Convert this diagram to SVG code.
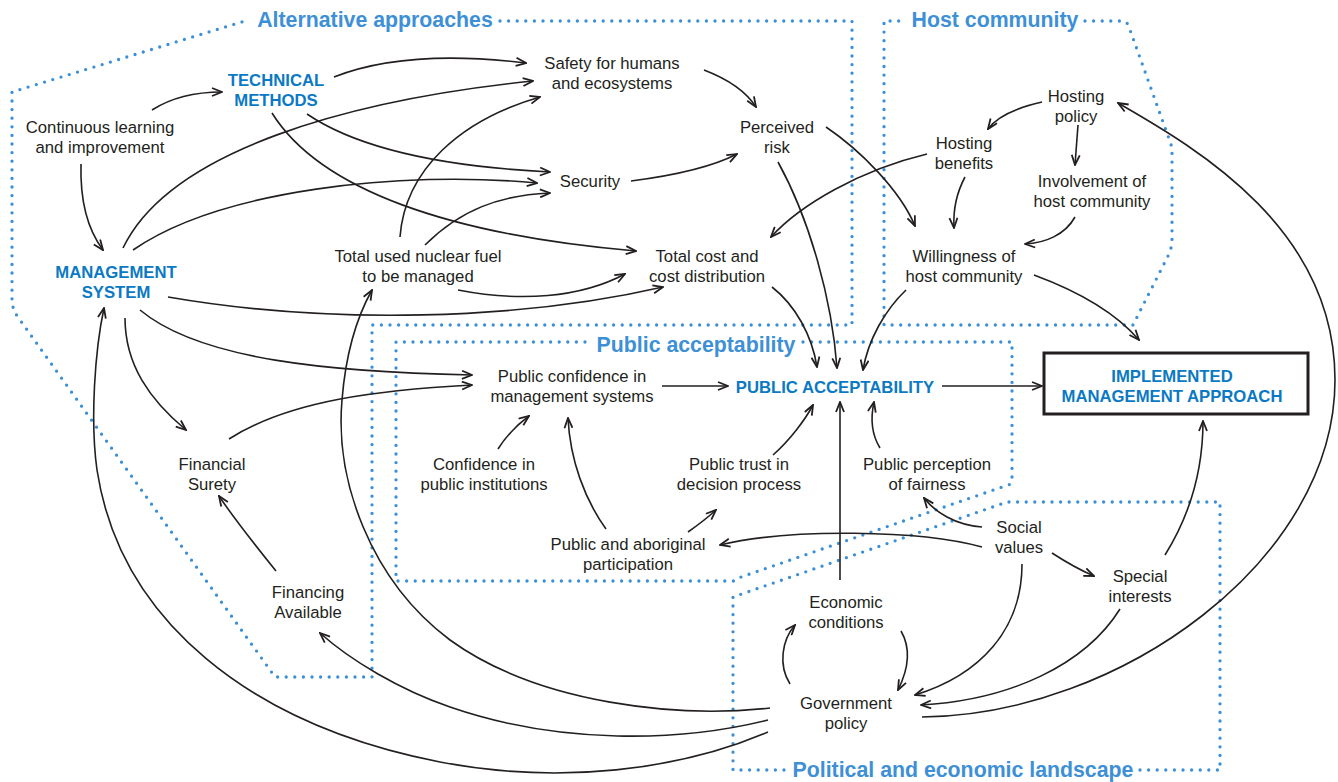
<svg xmlns="http://www.w3.org/2000/svg" width="1338" height="782" viewBox="0 0 1338 782">
<defs>
<marker id="ah" viewBox="0 0 12 10" refX="11" refY="5" markerWidth="12" markerHeight="10" markerUnits="userSpaceOnUse" orient="auto">
<path d="M1,1 L11,5 L1,9" fill="none" stroke="#231f20" stroke-width="1.8" stroke-linejoin="miter"/>
</marker>
<style>
.t{font-family:"Liberation Sans",Arial,sans-serif;font-size:16.7px;fill:#231f20;text-anchor:middle}
.b{font-family:"Liberation Sans",Arial,sans-serif;font-size:16.7px;font-weight:bold;fill:#0b79c3;text-anchor:middle}
.ti{font-family:"Liberation Sans",Arial,sans-serif;font-size:21.3px;font-weight:bold;fill:#3d90d6;text-anchor:middle}
.d{fill:none;stroke:#3b8fd6;stroke-width:3.3;stroke-dasharray:0 8.6;stroke-linecap:round;stroke-linejoin:round}
.c path{fill:none;stroke:#231f20;stroke-width:1.6;marker-end:url(#ah)}
</style>
</defs>
<rect width="1338" height="782" fill="#ffffff"/>

<g id="regions">
<path class="d" d="M500,21 L852,21 L852,325 L372,325 L372,677 L275,677 L20,320 Q12,310 12,300 L12,92 L245,21"/>
<path class="d" d="M1085,21 L1122,21 Q1127,21 1129,27 L1168,136 Q1172,145 1172,152 L1172,240 Q1172,248 1168,256 L1133,325 L884,325 L884,21 L900,21"/>
<path class="d" d="M803,342 L1012,342 L1012,480 Q1012,484 1008,485 L741,577 Q737,581 733,581 L396,581 L396,342 L588,342"/>
<path class="d" d="M1140,770 L1220,770 L1220,502 L1007,502 L733,597 L733,770 L785,770"/>
<text class="ti" x="375" y="27">Alternative approaches</text>
<text class="ti" x="995" y="27">Host community</text>
<text class="ti" x="696" y="352">Public acceptability</text>
<text class="ti" x="963" y="777">Political and economic landscape</text>
</g>

<g id="connectors" class="c">
<path d="M152,110 Q180,92 222,92"/>
<path d="M81,164 C80,200 88,230 103,250"/>
<path d="M334,77 C390,55 460,55 526,63"/>
<path d="M307,114 C360,150 450,167 550,172"/>
<path d="M272,113 C320,190 450,235 636,251"/>
<path d="M123,248 C170,150 350,100 533,81"/>
<path d="M133,250 C220,190 400,170 537,183"/>
<path d="M425,245 C460,210 500,195 550,193"/>
<path d="M400,237 C405,170 460,120 540,97"/>
<path d="M458,290 C520,302 580,298 625,274"/>
<path d="M168,297 C330,325 520,320 663,287"/>
<path d="M704,70 C725,78 745,90 756,107"/>
<path d="M631,181 C670,176 710,168 737,154"/>
<path d="M826,127 C860,150 900,190 915,226"/>
<path d="M778,162 C810,220 832,300 837,368"/>
<path d="M772,287 C795,305 812,335 817,367"/>
<path d="M906,290 C885,310 868,340 863,370"/>
<path d="M927,154 C860,170 800,205 771,237"/>
<path d="M1042,102 C1020,107 998,115 988,129"/>
<path d="M1078,125 L1075,165"/>
<path d="M965,177 C957,192 953,210 954,228"/>
<path d="M1075,217 C1065,235 1045,243 1025,244"/>
<path d="M1034,275 C1080,292 1115,312 1139,340"/>
<path d="M922,717 C1120,715 1335,560 1335,380 C1335,230 1200,150 1118,103"/>
<path d="M662,386 L728,386"/>
<path d="M942,386 L1042,386"/>
<path d="M140,310 C200,360 330,372 472,375"/>
<path d="M229,439 C290,400 380,390 472,385"/>
<path d="M125,318 C125,365 150,400 186,430"/>
<path d="M276,571 C255,545 235,520 219,496"/>
<path d="M768,732 C680,770 560,785 440,762 C250,725 120,620 97,470 C90,420 95,350 104,308"/>
<path d="M770,708 C680,718 540,705 450,640 C370,580 335,480 342,400 C346,350 358,315 372,290"/>
<path d="M768,720 C680,742 560,745 450,707 C400,690 350,660 320,633"/>
<path d="M498,449 Q510,430 529,416"/>
<path d="M606,529 C585,500 570,460 568,418"/>
<path d="M688,532 Q705,520 716,510"/>
<path d="M773,455 C790,440 805,420 813,405"/>
<path d="M840,580 L840,402"/>
<path d="M880,448 C872,435 870,420 874,402"/>
<path d="M982,527 C955,525 935,512 924,498"/>
<path d="M982,547 C920,530 790,528 720,545"/>
<path d="M1052,553 Q1075,568 1094,576"/>
<path d="M1022,564 C1022,630 980,675 915,695"/>
<path d="M1120,609 C1085,665 1010,700 921,705"/>
<path d="M1165,555 C1190,515 1203,470 1203,421"/>
<path d="M901,631 C912,650 908,670 898,690"/>
<path d="M790,684 C778,665 782,640 795,625"/>
</g>

<g id="n-continuous"><text class="t" x="100" y="133">Continuous learning</text><text class="t" x="100" y="153">and improvement</text></g>
<g id="n-technical"><text class="b" x="276" y="86">TECHNICAL</text><text class="b" x="276" y="106">METHODS</text></g>
<g id="n-management"><text class="b" x="116" y="278">MANAGEMENT</text><text class="b" x="116" y="298">SYSTEM</text></g>
<g id="n-safety"><text class="t" x="612" y="69">Safety for humans</text><text class="t" x="612" y="89">and ecosystems</text></g>
<g id="n-risk"><text class="t" x="777" y="133">Perceived</text><text class="t" x="777" y="153">risk</text></g>
<g id="n-security"><text class="t" x="590" y="187">Security</text></g>
<g id="n-fuel"><text class="t" x="418" y="262">Total used nuclear fuel</text><text class="t" x="418" y="282">to be managed</text></g>
<g id="n-cost"><text class="t" x="707" y="262">Total cost and</text><text class="t" x="707" y="282">cost distribution</text></g>
<g id="n-hostpolicy"><text class="t" x="1076" y="102">Hosting</text><text class="t" x="1076" y="122">policy</text></g>
<g id="n-hostbenefits"><text class="t" x="964" y="149">Hosting</text><text class="t" x="964" y="169">benefits</text></g>
<g id="n-involvement"><text class="t" x="1092" y="187">Involvement of</text><text class="t" x="1092" y="207">host community</text></g>
<g id="n-willingness"><text class="t" x="964" y="262">Willingness of</text><text class="t" x="964" y="282">host community</text></g>
<g id="n-pubconf"><text class="t" x="572" y="382">Public confidence in</text><text class="t" x="572" y="402">management systems</text></g>
<g id="n-pa"><text class="b" x="835" y="393">PUBLIC ACCEPTABILITY</text></g>
<g id="n-implemented"><rect x="1044" y="353" width="264" height="61" fill="none" stroke="#231f20" stroke-width="3"/><text class="b" x="1172" y="382">IMPLEMENTED</text><text class="b" x="1172" y="402">MANAGEMENT APPROACH</text></g>
<g id="n-confinst"><text class="t" x="484" y="470">Confidence in</text><text class="t" x="484" y="490">public institutions</text></g>
<g id="n-trust"><text class="t" x="739" y="470">Public trust in</text><text class="t" x="739" y="490">decision process</text></g>
<g id="n-fairness"><text class="t" x="927" y="470">Public perception</text><text class="t" x="927" y="490">of fairness</text></g>
<g id="n-surety"><text class="t" x="212" y="470">Financial</text><text class="t" x="212" y="490">Surety</text></g>
<g id="n-financing"><text class="t" x="308" y="598">Financing</text><text class="t" x="308" y="618">Available</text></g>
<g id="n-participation"><text class="t" x="628" y="550">Public and aboriginal</text><text class="t" x="628" y="570">participation</text></g>
<g id="n-social"><text class="t" x="1019" y="533">Social</text><text class="t" x="1019" y="553">values</text></g>
<g id="n-special"><text class="t" x="1140" y="582">Special</text><text class="t" x="1140" y="602">interests</text></g>
<g id="n-economic"><text class="t" x="846" y="608">Economic</text><text class="t" x="846" y="628">conditions</text></g>
<g id="n-government"><text class="t" x="846" y="709">Government</text><text class="t" x="846" y="729">policy</text></g>
</svg>
